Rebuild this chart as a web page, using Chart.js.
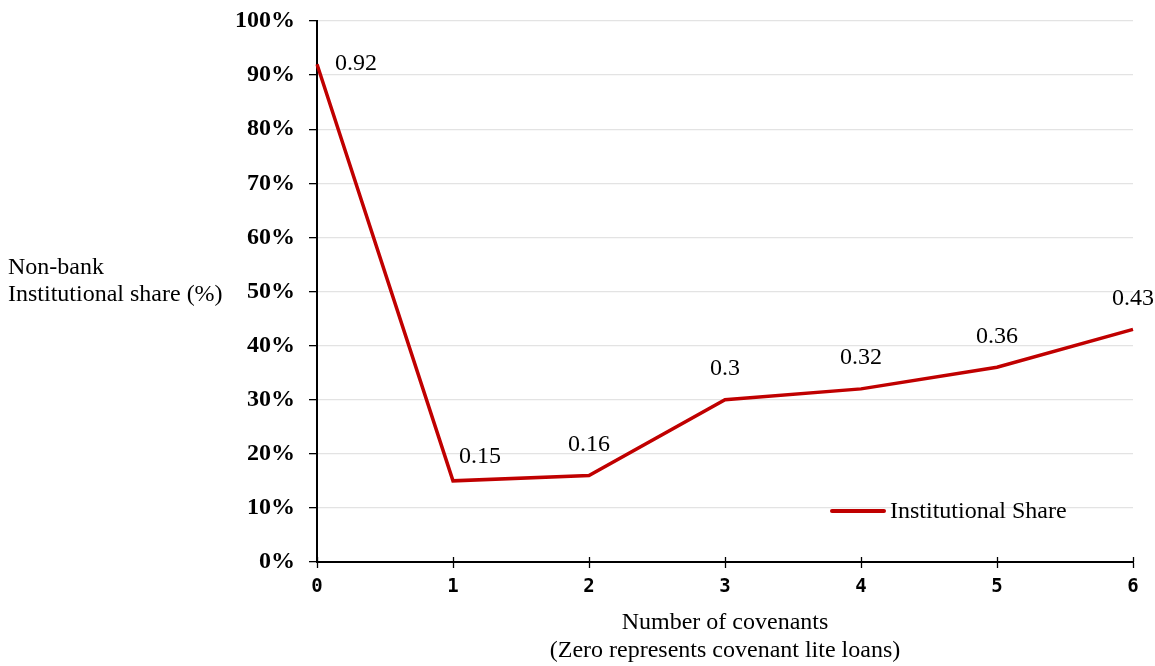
<!DOCTYPE html>
<html>
<head>
<meta charset="utf-8">
<script src="https://cdn.jsdelivr.net/npm/chart.js@4/dist/chart.umd.min.js"></script>
<style>
  html, body { margin: 0; padding: 0; background: #fff; }
  #wrap { width: 1155px; height: 666px; position: relative; }
</style>
</head>
<body>
<div id="wrap"><canvas id="c" width="1155" height="666"></canvas></div>
<script>
// Number of covenants on the loan (0 = covenant-lite)
const covenants = ['0', '1', '2', '3', '4', '5', '6'];
// Share of the loan held by non-bank institutions
const institutionalShare = [0.92, 0.15, 0.16, 0.30, 0.32, 0.36, 0.43];
const seriesName = 'Institutional Share';
const yTitleLines = ['Non-bank', 'Institutional share (%)'];
const xTitleLines = ['Number of covenants', '(Zero represents covenant lite loans)'];

const RED = '#c00000';
const SERIF = '"Liberation Serif", "Times New Roman", serif';

// value labels next to each point, plus titles, legend and crossing x tick marks
const annotate = {
  id: 'annotate',
  afterDatasetsDraw(chart) {
    const ctx = chart.ctx;
    const meta = chart.getDatasetMeta(0);
    const x = chart.scales.x, y = chart.scales.y;
    const area = chart.chartArea;
    ctx.save();

    // x ticks cross the axis line
    ctx.strokeStyle = '#000';
    ctx.lineWidth = 1.3;
    x.ticks.forEach((t, i) => {
      const px = Math.round(x.getPixelForTick(i)) + 0.5;
      ctx.beginPath();
      ctx.moveTo(px, area.bottom - 5);
      ctx.lineTo(px, area.bottom);
      ctx.stroke();
    });

    // point value labels
    ctx.fillStyle = '#000';
    ctx.font = '24px ' + SERIF;
    ctx.textBaseline = 'middle';
    meta.data.forEach((pt, i) => {
      const v = institutionalShare[i];
      let dx = 0, dy = -31, align = 'center';
      if (i === 0) { dx = 18; dy = -1; align = 'left'; }
      if (i === 1) { dx = 27; dy = -24; }
      ctx.textAlign = align;
      ctx.fillText(String(v), pt.x + dx, pt.y + dy);
    });

    // legend inside plot area
    const ly = y.getPixelForValue(0.10) + 3;
    const lx = x.getPixelForValue(4) - 29;
    ctx.strokeStyle = RED;
    ctx.lineWidth = 4;
    ctx.lineCap = 'round';
    ctx.beginPath();
    ctx.moveTo(lx, ly);
    ctx.lineTo(lx + 52, ly);
    ctx.stroke();
    ctx.textAlign = 'left';
    ctx.fillStyle = '#000';
    ctx.fillText(chart.data.datasets[0].label, lx + 58, ly + 1);

    // y title, horizontal on the left
    ctx.textAlign = 'left';
    ctx.fillText(yTitleLines[0], 8, 268);
    ctx.fillText(yTitleLines[1], 8, 295);

    // x title, centred under the axis
    ctx.textAlign = 'center';
    const cx = (area.left + area.right) / 2;
    ctx.fillText(xTitleLines[0], cx, 623);
    ctx.fillText(xTitleLines[1], cx, 651);
    ctx.restore();
  }
};

new Chart(document.getElementById('c'), {
  type: 'line',
  data: {
    labels: covenants,
    datasets: [{
      label: seriesName,
      data: institutionalShare,
      borderColor: RED,
      backgroundColor: RED,
      borderWidth: 3.5,
      pointRadius: 0,
      tension: 0,
      fill: false
    }]
  },
  options: {
    responsive: false,
    animation: false,
    layout: { padding: { top: 21, right: 22, left: 0, bottom: 0 } },
    plugins: { legend: { display: false }, tooltip: { enabled: false } },
    scales: {
      x: {
        offset: false,
        grid: { drawOnChartArea: false, tickLength: 6, tickColor: '#000', tickWidth: 1.3 },
        border: { color: '#000', width: 2 },
        ticks: {
          color: '#000',
          font: { family: '"DejaVu Sans Mono", monospace', weight: 'bold', size: 19 },
          padding: 8,
          maxRotation: 0
        },
        afterFit(s) { s.height = 104; }
      },
      y: {
        min: 0, max: 1,
        ticks: {
          stepSize: 0.1,
          color: '#000',
          padding: 14,
          font: { family: SERIF, weight: 'bold', size: 24, lineHeight: 0.3 },
          callback: v => Math.round(v * 100) + '%'
        },
        grid: { color: '#e3e3e3', lineWidth: 1.3, tickLength: 8, tickColor: '#000', tickWidth: 1.3 },
        border: { color: '#000', width: 2 },
        afterFit(s) { s.width = 317; }
      }
    }
  },
  plugins: [annotate]
});
</script>
</body>
</html>
